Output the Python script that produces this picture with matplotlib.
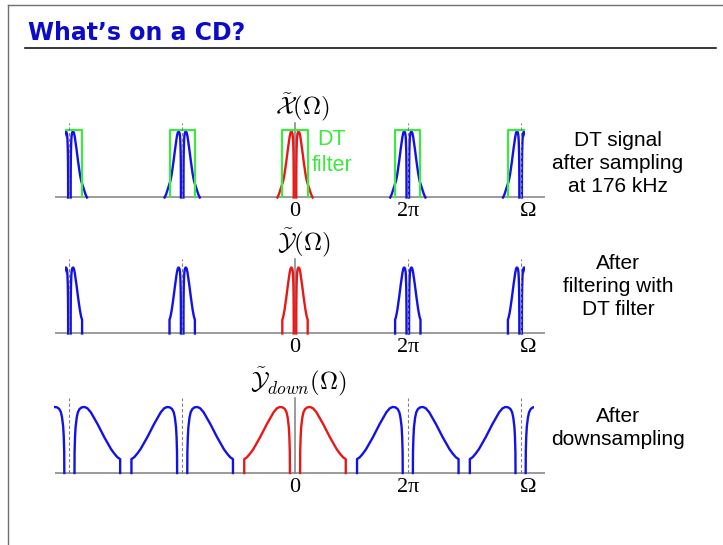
import numpy as np
import matplotlib
matplotlib.use("Agg")
import matplotlib.pyplot as plt
from matplotlib.lines import Line2D
from matplotlib.patches import Rectangle

plt.rcParams["mathtext.fontset"] = "cm"

# one half of a spectral copy, frequency in units of pi at the CD rate
shape_w = [0.09, 0.092, 0.10, 0.11, 0.13, 0.15, 0.18, 0.22, 0.27, 0.32,
           0.38, 0.44, 0.50, 0.56, 0.62, 0.68, 0.74, 0.80, 0.85, 0.90]
shape_h = [0.0, 0.32, 0.55, 0.70, 0.84, 0.92, 0.97, 0.995, 1.0, 0.98,
           0.92, 0.83, 0.74, 0.64, 0.54, 0.45, 0.36, 0.29, 0.24, 0.21]
# roll-off past the DT filter edge (only there before filtering)
tail_w = [0.96, 1.02, 1.08, 1.14, 1.20, 1.25]
tail_h = [0.17, 0.13, 0.09, 0.05, 0.02, 0.0]

centers = [-4, -2, 0, 2, 4]          # copies every 2*pi
oversample = 4                       # 176 kHz = 4 x 44.1 kHz
filter_edge = 0.225
filter_height = 1.03

tick_pos = [0, 2, 4.13]
tick_text = ["0", "2π", "Ω"]

panel_titles = [r"$\tilde{\mathcal{X}}(\Omega)$",
                r"$\tilde{\mathcal{Y}}(\Omega)$",
                r"$\tilde{\mathcal{Y}}_{down}(\Omega)$"]
panel_notes = [["DT signal", "after sampling", "at 176 kHz"],
               ["After", "filtering with", "DT filter"],
               ["After", "downsampling"]]

W, H = 723, 545
ZERO_PX, PX_PER_PI, PEAK_PX = 295.0, 56.4, 66.0
AX_LEFT, AX_RIGHT = 55.0, 545.0
BLUE, RED, GREEN, GRAY = "#1212e6", "#e81818", "#3ee83e", "#808080"

fig = plt.figure(figsize=(W / 100, H / 100), dpi=100)
fig.patch.set_facecolor("white")


def add_panel(baseline):
    above, below = 100.0, 40.0
    ax = fig.add_axes([AX_LEFT / W, 1 - (baseline + below) / H,
                       (AX_RIGHT - AX_LEFT) / W, (above + below) / H])
    ax.set_xlim((AX_LEFT - ZERO_PX) / PX_PER_PI, (AX_RIGHT - ZERO_PX) / PX_PER_PI)
    ax.set_ylim(-below / PEAK_PX, above / PEAK_PX)
    ax.axis("off")
    ax.axhline(0, color=GRAY, lw=1.1, zorder=1)
    ax.plot([0, 0], [0, 1.13], color=GRAY, lw=1.1, zorder=1)
    for c in centers:
        if c != 0:
            ax.plot([c, c], [0, 1.13], color=GRAY, lw=0.8, ls=(0, (3, 2)), zorder=4)
    for p, t in zip(tick_pos, tick_text):
        ax.text(p, -0.07, t, ha="center", va="top", family="Liberation Serif", size=16)
    return ax


def draw_copies(ax, w, h, scale, lo, hi):
    clip = Rectangle((lo, -5), hi - lo, 10, transform=ax.transData)
    w = np.array(w) / scale
    for c in centers:
        color = RED if c == 0 else BLUE
        for sign in (-1, 1):
            line, = ax.plot(c + sign * w, h, color=color, lw=1.7, zorder=2,
                            solid_joinstyle="round")
            line.set_clip_path(clip)
    return clip


# sampled at 176 kHz, with the DT filter drawn over it
ax1 = add_panel(197.5)
clip = draw_copies(ax1, shape_w + tail_w, shape_h + tail_h, oversample, -4.08, 4.08)
for c in centers:
    rect, = ax1.plot([c - filter_edge, c - filter_edge, c + filter_edge, c + filter_edge],
                     [0, filter_height, filter_height, 0], color=GREEN, lw=1.6, zorder=3)
    rect.set_clip_path(clip)
ax1.text(0.656, 0.80, "DT", color=GREEN, ha="center", va="baseline",
         family="Liberation Sans", size=15.5)
ax1.text(0.656, 0.40, "filter", color=GREEN, ha="center", va="baseline",
         family="Liberation Sans", size=15.5)

# after the DT filter
ax2 = add_panel(333.5)
draw_copies(ax2, shape_w + [0.90], shape_h + [0.0], oversample, -4.08, 4.08)

# after downsampling by 4
ax3 = add_panel(473.0)
draw_copies(ax3, shape_w + [0.90], shape_h + [0.0], 1, -4.27, 4.23)

for ax, title, x in zip([ax1, ax2, ax3], panel_titles, [0.13, 0.15, 0.06]):
    ax.text(x, 1.13, title, ha="center", va="bottom", size=18)

# side notes
baselines = [[146, 169, 192], [269, 292, 315], [422, 445]]
for lines, ys in zip(panel_notes, baselines):
    for line, y in zip(lines, ys):
        fig.text(618 / W, 1 - y / H, line, ha="center", va="baseline",
                 family="Liberation Sans", size=15)

# slide title and frame
fig.text(28 / W, 1 - 40 / H, "What’s on a CD?", color="#0c0cc8", fontweight="bold",
         size=17, va="baseline", family="DejaVu Sans")
fig.add_artist(Line2D([25 / W, 716 / W], [1 - 48 / H, 1 - 48 / H], color="black", lw=1.1))
fig.add_artist(Line2D([7.5 / W, 7.5 / W], [0, 1 - 5 / H], color="#707070", lw=1.0))
fig.add_artist(Line2D([7.5 / W, 1], [1 - 5 / H, 1 - 5 / H], color="#707070", lw=1.0))

fig.savefig("out.png", dpi=100)
